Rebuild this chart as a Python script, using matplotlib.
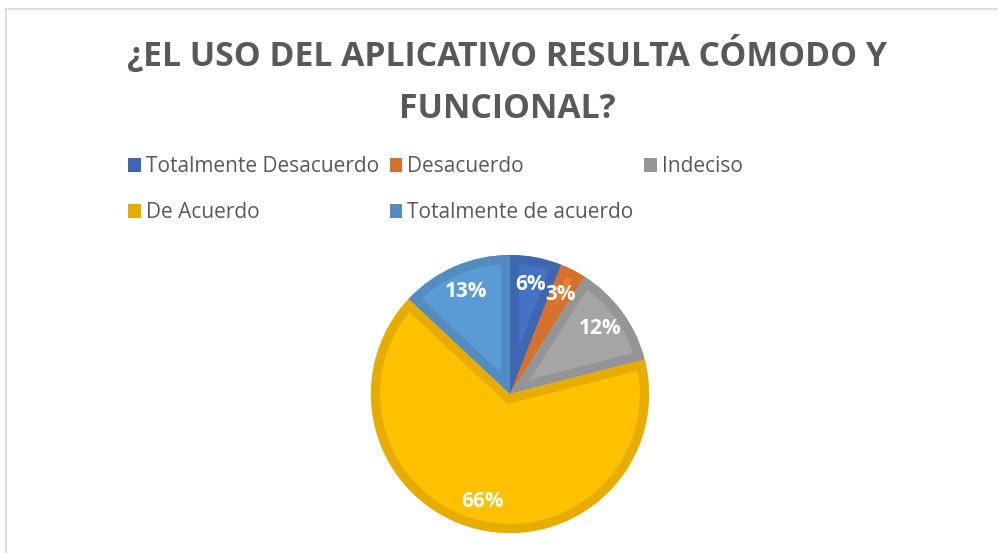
import matplotlib
matplotlib.use("Agg")
from matplotlib import pyplot as plt
from matplotlib.patches import Patch, Rectangle, Wedge

# data
categories = ["Totalmente Desacuerdo", "Desacuerdo", "Indeciso", "De Acuerdo", "Totalmente de acuerdo"]
values = [6, 3, 12, 66, 13]
fill_colors = ["#4472C4", "#ED7D31", "#A5A5A5", "#FFC000", "#5B9BD5"]
edge_colors = ["#3F67B1", "#D5712C", "#959595", "#E6AD00", "#528CC0"]
title = "¿EL USO DEL APLICATIVO RESULTA CÓMODO Y\nFUNCIONAL?"

plt.rcParams["font.family"] = ["Open Sans", "DejaVu Sans"]

W, H = 998, 553
fig = plt.figure(figsize=(W / 100, H / 100), dpi=100)

# chart area frame (cut off at right and bottom)
fig.patches.append(Rectangle((6 / W, -0.1), 1.2, 1 - 9 / H + 0.1, transform=fig.transFigure,
                             fill=False, edgecolor="#D9D9D9", linewidth=1.2))

fig.text(0.508, 1 - 81 / H, title, ha="center", va="center", fontsize=24.3, fontweight="bold",
         color="#595959", linespacing=1.72)

# pie
cx, cy, r = 510, 394, 139
ax = fig.add_axes([(cx - r) / W, (H - cy - r) / H, 2 * r / W, 2 * r / H])
wedges, texts, autotexts = ax.pie(values, colors=fill_colors, startangle=90, counterclock=False,
                                  autopct="%1.0f%%", pctdistance=0.8,
                                  textprops=dict(color="white", fontsize=15, fontweight="bold"))
# inner border: a stroked copy of each wedge, clipped to the wedge itself
for w, ec in zip(wedges, edge_colors):
    w.set_edgecolor("none")
    border = Wedge(w.center, w.r, w.theta1, w.theta2, facecolor="none", edgecolor=ec, linewidth=13)
    ax.add_patch(border)
    border.set_clip_path(w.get_path(), w.get_transform())
for t in autotexts:
    t.set_zorder(5)
ax.set_xlim(-1, 1)
ax.set_ylim(-1, 1)
ax.axis("off")

# legend laid out row by row
handles = [Patch(facecolor=c, edgecolor="none") for c in edge_colors]
order = [0, 3, 1, 4, 2]
fig.legend([handles[i] for i in order], [categories[i] for i in order], ncol=3,
           loc="upper left", bbox_to_anchor=(118 / W, 1 - 146 / H), frameon=False,
           fontsize=15, labelcolor="#595959", handlelength=0.6, handleheight=0.6,
           handletextpad=0.25, columnspacing=0.5, labelspacing=1.2, borderpad=0)

fig.savefig("out.png", dpi=100, facecolor="white")
